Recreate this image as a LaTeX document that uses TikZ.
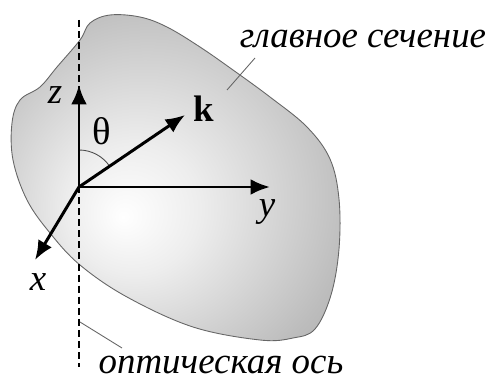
\documentclass[tikz,border=0pt]{standalone}
\usepackage{fontspec}
\setmainfont{Liberation Serif}
\usetikzlibrary{arrows.meta}
\pgfdeclareradialshading{blobshade}{\pgfpoint{-8bp}{-6bp}}{color(0bp)=(white); color(10bp)=(black!7); color(30bp)=(black!26); color(50bp)=(black!42)}
\tikzset{axis/.style={line width=1.7pt,-{Latex[length=11pt,width=9pt]}},
	lbl/.style={font=\fontsize{21}{24}\selectfont\itshape},
	leader/.style={black!60,line width=0.5pt}}

\begin{document}
\begin{tikzpicture}[x=0.02cm,y=0.02cm]
			\useasboundingbox (0,0) rectangle (494,379);
			\shadedraw[shading=blobshade, draw=black!60, line width=0.5pt] plot[smooth cycle, tension=0.6] coordinates {(12,256) (20,279) (40,292) (57,312) (80,339) (90,356) (110,364) (140,362) (167,352) (200,332) (233,309) (270,282) (307,252) (330,220) (339,180) (339,130) (331,84) (315,50) (293,41) (260,39) (193,52) (127,82) (80,114) (50,146) (27,179) (13,219)};
			\draw[line width=1pt, dash pattern=on 4pt off 2.3pt] (79,359) -- (79,12);
			\coordinate (O) at (79,192);
			\coordinate (ztip) at (79,294);
			\coordinate (ytip) at (270,192);
			\coordinate (xtip) at (35,119);
			\coordinate (ktip) at (185,264);
			\draw[black!70, line width=0.5pt] (79,229) arc (90:34:37);
			\draw[axis] (O) -- (ztip);
			\draw[axis] (O) -- (ytip);
			\draw[axis] (O) -- (xtip);
			\draw[axis] (O) -- (ktip);
			\node[lbl] (zlab) at (55,284) {z};
			\node[lbl] (ylab) at (267,167) {y};
			\node[lbl] (xlab) at (38,97) {x};
			\node[font=\fontsize{22}{24}\selectfont] (thlab) at (102,248) {θ};
			\node[font=\fontsize{21}{24}\selectfont] (klab) at (204,270) {$\mathbf{k}$};
			\node[lbl, anchor=base] (sec) at (363,331) {главное сечение};
			\node[lbl, anchor=base] (opt) at (221,6) {оптическая ось};
			\coordinate (secpt) at (227,289);
			\coordinate (secend) at (255,321);
			\coordinate (optpt) at (80,57);
			\coordinate (optend) at (122,31);
			\draw[leader] (secpt) -- (secend);
			\draw[leader] (optpt) -- (optend);
			\end{tikzpicture}
\end{document}
